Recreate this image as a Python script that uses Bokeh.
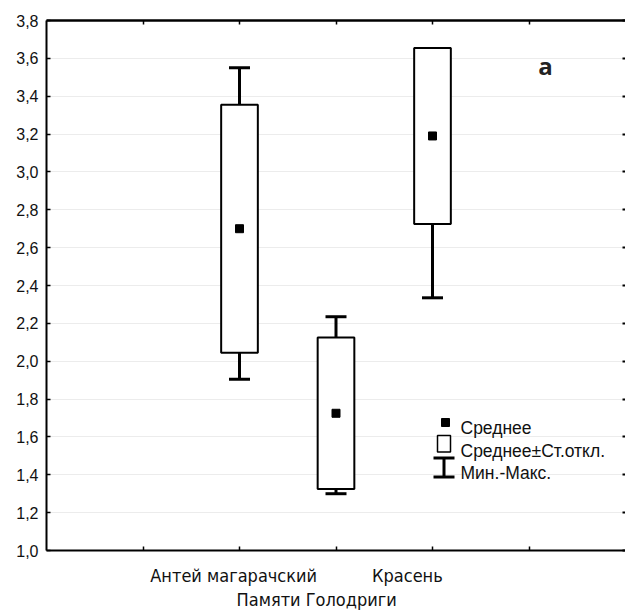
from bokeh.plotting import figure
from bokeh.models import (FixedTicker, CustomJSTickFormatter, LinearAxis, Range1d, Label)
from bokeh.embed import file_html
from bokeh.resources import INLINE

# ---- data ----
categories = ["Антей магарачский", "Памяти Голодриги", "Красень"]
cat_pos = [2, 3, 4]
means = [2.70, 1.725, 3.19]
sd_low = [2.045, 1.325, 2.725]
sd_high = [3.355, 2.125, 3.655]
mins = [1.905, 1.300, 2.335]
maxs = [3.550, 2.235, 3.620]
y_ticks = [1.0, 1.2, 1.4, 1.6, 1.8, 2.0, 2.2, 2.4, 2.6, 2.8, 3.0, 3.2, 3.4, 3.6, 3.8]
x_ticks = [1, 2, 3, 4, 5]
legend_labels = ["Среднее", "Среднее±Ст.откл.", "Мин.-Макс."]
panel_letter = "а"

# ---- layout ----
W, H = 625, 612
BL, BR, BT, BB = 46, 0, 20, 62
XMIN, XMAX = 0, 6
YMIN, YMAX = 1.0, 3.8
FW, FH = W - BL - BR, H - BT - BB

def px(x):
    return XMIN + (x - BL) * (XMAX - XMIN) / FW

def py(y):
    return YMAX - (y - BT) * (YMAX - YMIN) / FH

FONT = "Liberation Sans, Arial, sans-serif"
NARROW = "DejaVu Sans Condensed, Liberation Sans Narrow, sans-serif"

p = figure(width=W, height=H, x_range=Range1d(XMIN, XMAX), y_range=Range1d(YMIN, YMAX),
           output_backend="svg", toolbar_location=None,
           min_border_left=BL, min_border_right=BR, min_border_top=BT, min_border_bottom=BB)
p.outline_line_color = None
p.background_fill_color = "white"
p.border_fill_color = "white"

empty = CustomJSTickFormatter(code="return ''")

# left axis
ya = p.yaxis[0]
ya.ticker = FixedTicker(ticks=y_ticks)
ya.formatter = CustomJSTickFormatter(code="return tick.toFixed(1).replace('.', ',')")
ya.major_tick_in = 4
ya.major_tick_out = 0
ya.minor_tick_line_color = None
ya.axis_line_width = 2
ya.major_tick_line_width = 1.5
ya.major_label_text_font = FONT
ya.major_label_text_font_size = "16px"
ya.major_label_text_color = "#111111"
ya.major_label_standoff = 8

# bottom axis (line + ticks)
xa = p.xaxis[0]
xa.ticker = FixedTicker(ticks=x_ticks)
xa.formatter = empty
xa.major_tick_in = 4
xa.major_tick_out = 0
xa.minor_tick_line_color = None
xa.axis_line_width = 2
xa.major_tick_line_width = 1.5
xa.major_label_text_font_size = "0px"
xa.major_label_standoff = 0

# staggered category labels as extra label-only axes
label_shift = [-0.06, -0.20, -0.26]
label_row = [0, 1, 0]
row_standoff = [14, 0]
for r in [0, 1]:
    idx = [i for i in range(len(categories)) if label_row[i] == r]
    ticks = [cat_pos[i] + label_shift[i] for i in idx]
    names = [categories[i] for i in idx]
    lab_ax = LinearAxis(ticker=FixedTicker(ticks=ticks),
                        formatter=CustomJSTickFormatter(args=dict(names=names),
                                                        code="return names[index]"),
                        axis_line_color=None, major_tick_line_color=None,
                        minor_tick_line_color=None, major_tick_in=0, major_tick_out=0,
                        major_label_standoff=row_standoff[r],
                        major_label_text_font=NARROW, major_label_text_font_size="18px",
                        major_label_text_color="#111111")
    p.add_layout(lab_ax, "below")

# top axis
ta = LinearAxis(ticker=FixedTicker(ticks=x_ticks), formatter=empty,
                major_tick_in=4, major_tick_out=0, minor_tick_line_color=None,
                axis_line_width=2.5, major_tick_line_width=1.5,
                major_label_text_font_size="0px", major_label_standoff=0)
p.add_layout(ta, "above")

# right axis (ticks only)
ra = LinearAxis(ticker=FixedTicker(ticks=y_ticks), formatter=empty,
                major_tick_in=3, major_tick_out=0, minor_tick_line_color=None,
                axis_line_color=None, major_tick_line_width=2,
                major_label_text_font_size="0px", major_label_standoff=0)
p.add_layout(ra, "right")

p.xgrid.visible = False
p.ygrid.ticker = FixedTicker(ticks=y_ticks)
p.ygrid.grid_line_color = "#ececec"
p.ygrid.grid_line_width = 1

# ---- marks ----
p.segment(x0=cat_pos, y0=mins, x1=cat_pos, y1=maxs, line_color="black", line_width=3)
p.scatter(x=cat_pos + cat_pos, y=mins + maxs, marker="dash", size=21,
          line_color="black", line_width=3)
p.vbar(x=cat_pos, width=0.38, bottom=sd_low, top=sd_high, fill_color="white",
       line_color="black", line_width=2)
p.scatter(x=cat_pos, y=means, marker="square", size=8, fill_color="black", line_color="black")

# ---- legend (manual) ----
p.scatter(x=[px(445)], y=[py(422)], marker="square", size=8, fill_color="black", line_color="black")
p.quad(left=[px(437)], right=[px(450)], top=[py(435)], bottom=[py(451.5)],
       fill_color="white", line_color="black", line_width=1.5)
p.segment(x0=[px(443.5)], y0=[py(457)], x1=[px(443.5)], y1=[py(477)], line_color="black", line_width=3)
p.scatter(x=[px(443.5), px(443.5)], y=[py(457.5), py(476.5)], marker="dash", size=21,
          line_color="black", line_width=3)
for t, by in zip(legend_labels, [427, 450, 472]):
    p.add_layout(Label(x=XMAX, y=YMIN, x_offset=460 - (BL + FW), y_offset=(BT + FH) - by, text=t,
                       text_align="left", text_baseline="alphabetic",
                       text_font=FONT, text_font_size="17.5px", text_color="#111111"))

# ---- panel letter ----
p.add_layout(Label(x=XMAX, y=YMAX, x_offset=545 - (BL + FW), y_offset=-(65 - BT), text=panel_letter,
                   text_align="center", text_baseline="alphabetic",
                   text_font="Open Sans", text_font_style="bold",
                   text_font_size="24px", text_color="#222222"))

open("out.html", "w").write(file_html(p, INLINE))
